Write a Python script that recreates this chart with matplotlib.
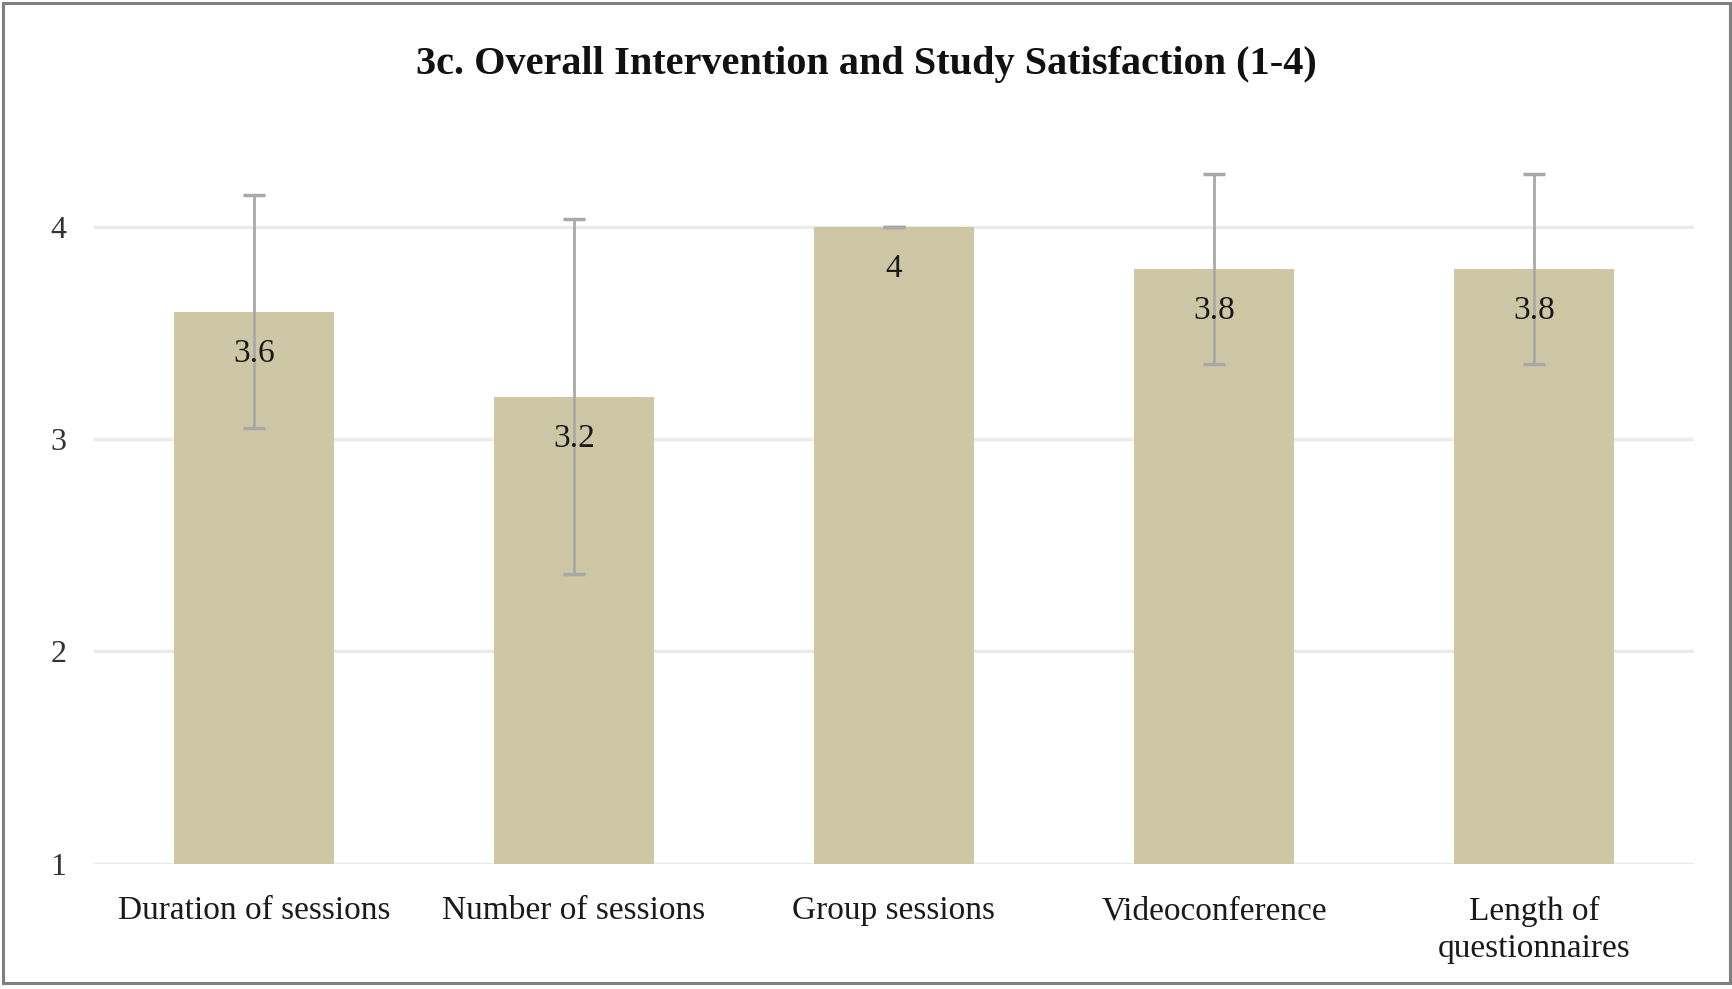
import numpy as np
import matplotlib
matplotlib.use("Agg")
import matplotlib.pyplot as plt
from matplotlib.patches import Rectangle

# datos del grafico
categorias = ["Duration of sessions", "Number of sessions", "Group sessions",
              "Videoconference", "Length of\nquestionnaires"]
medias = [3.6, 3.2, 4.0, 3.8, 3.8]
desv = [0.548, 0.837, 0.0, 0.447, 0.447]
etiquetas = ["3.6", "3.2", "4", "3.8", "3.8"]
titulo = "3c. Overall Intervention and Study Satisfaction (1-4)"

plt.rcParams['font.family'] = ['Liberation Serif', 'DejaVu Serif']

fig = plt.figure(figsize=(17.33, 9.89), dpi=100)
ax = fig.add_axes([0.0542, 0.1268, 0.9233, 0.7191])

x = np.arange(len(categorias))
ax.bar(x, medias, width=0.5, color="#CEC7A6", zorder=2)
ax.errorbar(x, medias, yerr=desv, fmt="none", ecolor="#A9A9A9",
            elinewidth=2, capsize=8, capthick=2.5, zorder=3)

for xi, m, t in zip(x, medias, etiquetas):
    ax.annotate(t, (xi, m), xytext=(0, -42), textcoords="offset pixels",
                ha="center", va="center", fontsize=24, color="#1a1a1a", zorder=4)

ax.set_xlim(-0.5, len(categorias) - 0.5)
ax.set_ylim(1, 4.35)
ax.set_yticks([1, 2, 3, 4])
ax.set_yticklabels(["1", "2", "3", "4"])
ax.set_xticks(x)
ax.set_xticklabels(categorias, fontsize=24, linespacing=1.3, va="top")
ax.tick_params(axis="y", labelsize=23, length=0, pad=20, labelcolor="#333333")
ax.tick_params(axis="x", length=0, pad=23, labelcolor="#1a1a1a")

ax.yaxis.grid(True, color="#EBEBEB", linewidth=2.5, zorder=0)
ax.set_axisbelow(True)
for s in ax.spines.values():
    s.set_visible(False)

fig.text(0.5, 0.935, titulo, ha="center", va="center", fontsize=29,
         fontweight="bold", color="#111111")

# marco exterior
fig.patches.append(Rectangle((0.002, 0.006), 0.996, 0.991, transform=fig.transFigure,
                             fill=False, edgecolor="#7f7f7f", linewidth=2.2))

fig.savefig("out.png", dpi=100)
